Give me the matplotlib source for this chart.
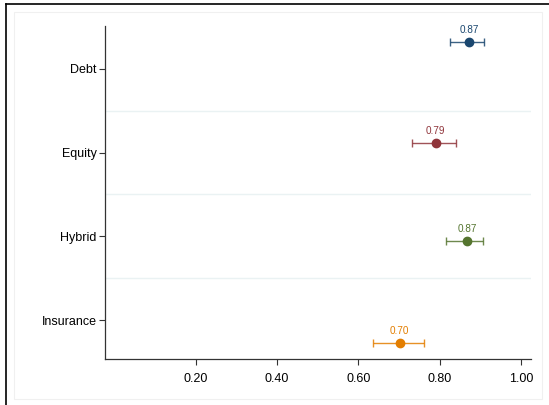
import matplotlib.pyplot as plt
from matplotlib.lines import Line2D
from matplotlib.patches import Rectangle

# data
categories = ["Debt", "Equity", "Hybrid", "Insurance"]
cat_pos = [4, 3, 2, 1]
point_pos = [4.32, 3.12, 1.94, 0.73]
estimates = [0.872, 0.790, 0.867, 0.702]
ci_low = [0.825, 0.733, 0.816, 0.636]
ci_high = [0.909, 0.840, 0.906, 0.761]
labels = ["0.87", "0.79", "0.87", "0.70"]
colors = ["#1a476f", "#90353b", "#55752f", "#e37e00"]
xticks = [0.2, 0.4, 0.6, 0.8, 1.0]

plt.rcParams['font.family'] = ['Liberation Sans', 'DejaVu Sans']

fig = plt.figure(figsize=(5.49, 4.05), dpi=100)
ax = fig.add_axes([105 / 549, 1 - 359 / 405, 426 / 549, 333 / 405])

# outer frame pieces (black) and inner light border
fig.add_artist(Line2D([6 / 549, 6 / 549], [0, 1 - 4 / 405], color="black", lw=1.2))
fig.add_artist(Line2D([6 / 549, 1], [1 - 4 / 405, 1 - 4 / 405], color="black", lw=1.2))
fig.add_artist(Rectangle((14 / 549, 6 / 405), 528 / 549, 387 / 405, fill=False,
                         edgecolor="#f0f0f0", lw=0.8))

for g in [3.5, 2.5, 1.5]:
    ax.axhline(g, color="#eaf2f3", lw=1, zorder=0)

for i in range(len(categories)):
    y = point_pos[i]
    c = colors[i]
    eb = ax.errorbar(estimates[i], y,
                     xerr=[[estimates[i] - ci_low[i]], [ci_high[i] - estimates[i]]],
                     fmt="none", ecolor=c, elinewidth=1.0, capsize=3.2, capthick=1.0,
                     alpha=0.85)
    ax.plot(estimates[i], y, "o", color=c, ms=6, zorder=3)
    ax.annotate(labels[i], (estimates[i], y), xytext=(0, 5), textcoords="offset points",
                ha="center", va="bottom", color=c, fontsize=7.2)

ax.set_xlim(-0.024, 1.025)
ax.set_ylim(0.534, 4.513)
ax.set_xticks(xticks)
ax.set_xticklabels([f"{t:.2f}" for t in xticks])
ax.set_yticks(cat_pos)
ax.set_yticklabels(categories)
ax.tick_params(axis="both", labelsize=9, length=4, width=0.8, color="#333333")
ax.tick_params(axis="x", pad=6)
ax.tick_params(axis="y", pad=2)
for s in ["top", "right"]:
    ax.spines[s].set_visible(False)
for s in ["left", "bottom"]:
    ax.spines[s].set_color("#333333")
    ax.spines[s].set_linewidth(0.9)

fig.savefig("out.png", dpi=100)
